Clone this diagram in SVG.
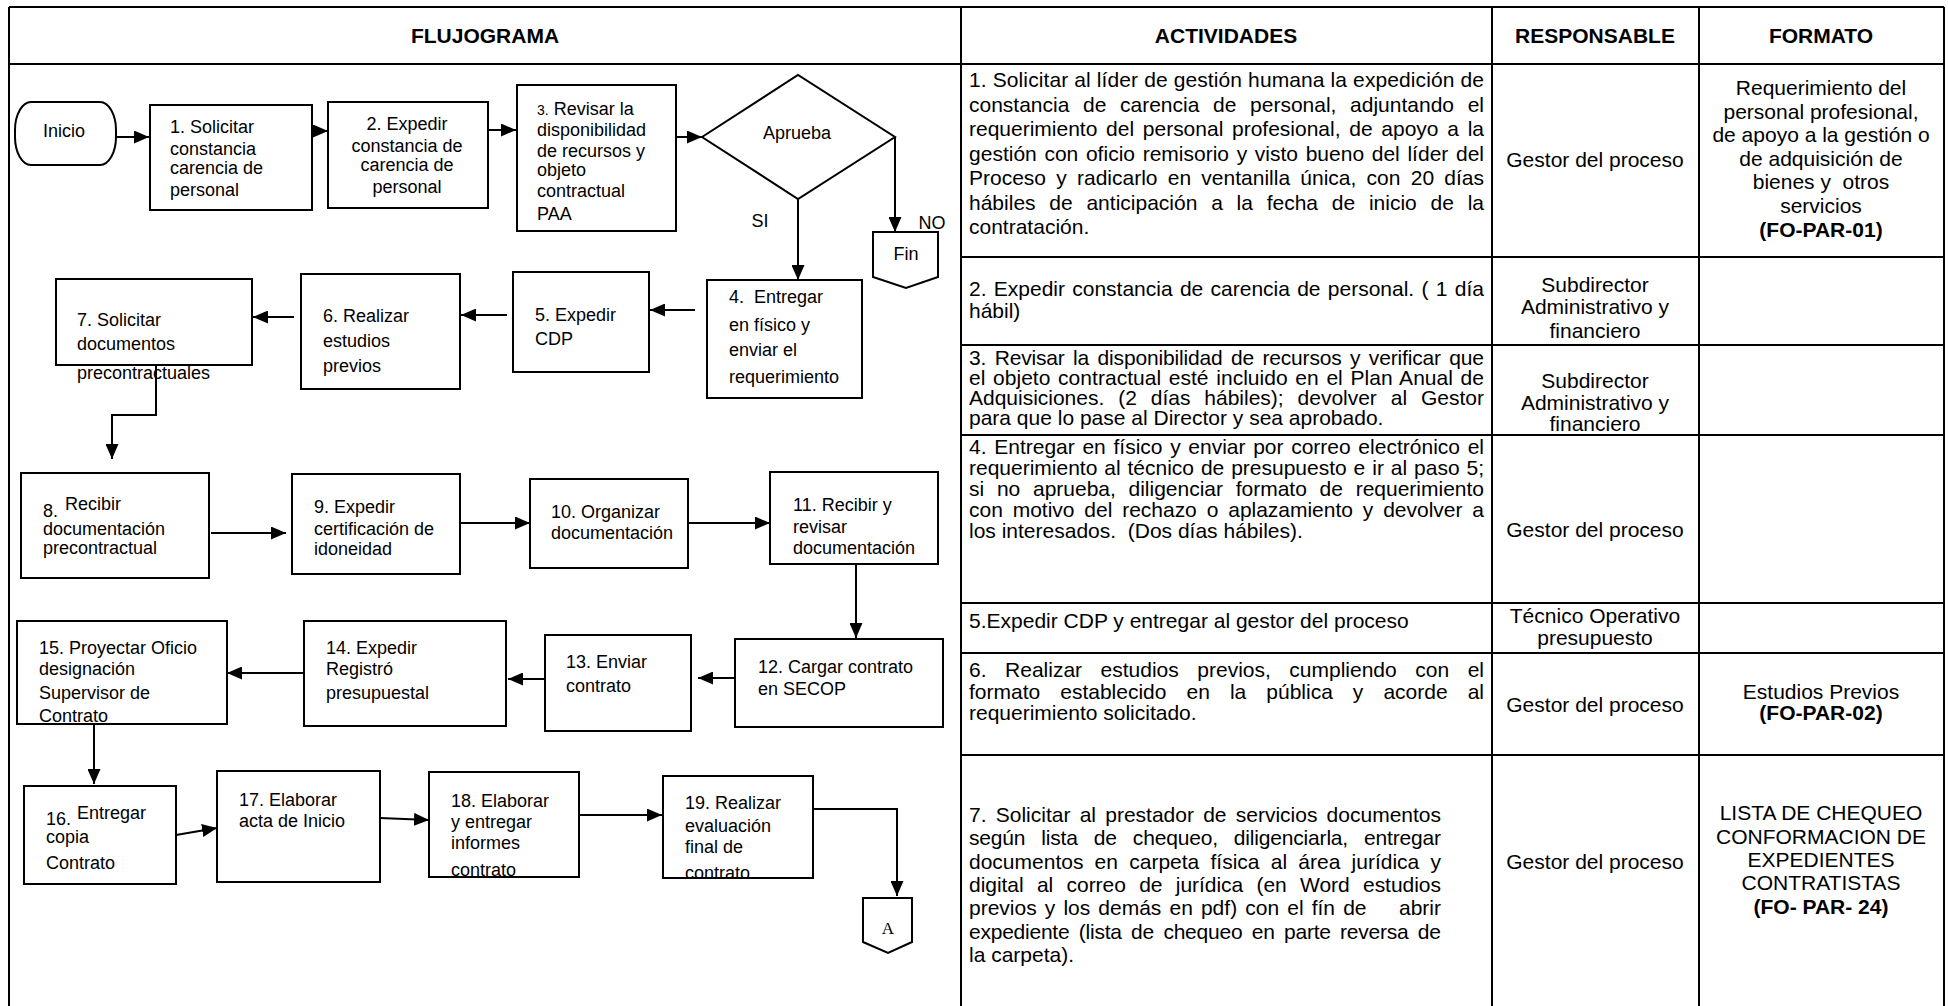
<svg xmlns="http://www.w3.org/2000/svg" width="1948" height="1006" viewBox="0 0 1948 1006">
<style>
.bx{fill:#fff;stroke:#000;stroke-width:2}
.ln{stroke:#000;stroke-width:2;fill:none}
.cn{stroke:#000;stroke-width:2;fill:none;marker-end:url(#ah)}
.f{font-family:"Liberation Sans",Arial,sans-serif;font-size:18px;fill:#000}
.g{font-family:"Liberation Sans",Arial,sans-serif;font-size:21px;fill:#000}
.hd{font-weight:bold;text-anchor:middle}
.m{text-anchor:middle}
.bd{font-weight:bold}
</style>
<defs>
<marker id="ah" viewBox="0 0 15 13" refX="15" refY="6.5" markerWidth="15" markerHeight="13" markerUnits="userSpaceOnUse" orient="auto"><path d="M0,0 L15,6.5 L0,13 z" fill="#000"/></marker>
</defs>
<rect width="1948" height="1006" fill="#fff"/>

<g id="table">
<path class="ln" d="M9,7 H1944 M9,64 H1944 M9,7 V1006 M1944,7 V1006 M961,7 V1006 M1492,7 V1006 M1699,7 V1006 M961,257 H1944 M961,345 H1944 M961,435 H1944 M961,603 H1944 M961,653 H1944 M961,755 H1944"/>
<text class="g hd" x="485" y="43">FLUJOGRAMA</text>
<text class="g hd" x="1226" y="43">ACTIVIDADES</text>
<text class="g hd" x="1595" y="43">RESPONSABLE</text>
<text class="g hd" x="1821" y="43">FORMATO</text>
</g>

<g id="row1">
<text class="g" x="969" y="87" textLength="515" lengthAdjust="spacing">1. Solicitar al líder de gestión humana la expedición de</text>
<text class="g" x="969" y="111.5" word-spacing="7.8" textLength="515" lengthAdjust="spacing">constancia de carencia de personal, adjuntando el</text>
<text class="g" x="969" y="136" word-spacing="2.9" textLength="515" lengthAdjust="spacing">requerimiento del personal profesional, de apoyo a la</text>
<text class="g" x="969" y="160.5" word-spacing="1.8" textLength="515" lengthAdjust="spacing">gestión con oficio remisorio y visto bueno del líder del</text>
<text class="g" x="969" y="185" word-spacing="4.4" textLength="515" lengthAdjust="spacing">Proceso y radicarlo en ventanilla única, con 20 días</text>
<text class="g" x="969" y="209.5" word-spacing="7.9" textLength="515" lengthAdjust="spacing">hábiles de anticipación a la fecha de inicio de la</text>
<text class="g" x="969" y="234">contratación.</text>
<text class="g m" x="1595" y="167">Gestor del proceso</text>
<text class="g m" x="1821" y="95">Requerimiento del</text>
<text class="g m" x="1821" y="119">personal profesional,</text>
<text class="g m" x="1821" y="142">de apoyo a la gestión o</text>
<text class="g m" x="1821" y="166">de adquisición de</text>
<text class="g m" x="1821" y="189" style="white-space:pre">bienes y  otros</text>
<text class="g m" x="1821" y="213">servicios</text>
<text class="g m bd" x="1821" y="237">(FO-PAR-01)</text>
</g>

<g id="row2">
<text class="g" x="969" y="296" word-spacing="1.5" textLength="515" lengthAdjust="spacing">2. Expedir constancia de carencia de personal. ( 1 día</text>
<text class="g" x="969" y="318">hábil)</text>
<text class="g m" x="1595" y="292">Subdirector</text>
<text class="g m" x="1595" y="314">Administrativo y</text>
<text class="g m" x="1595" y="338">financiero</text>
</g>

<g id="row3">
<text class="g" x="969" y="365" word-spacing="2.8" textLength="515" lengthAdjust="spacing">3. Revisar la disponibilidad de recursos y verificar que</text>
<text class="g" x="969" y="385" word-spacing="1.8" textLength="515" lengthAdjust="spacing">el objeto contractual esté incluido en el Plan Anual de</text>
<text class="g" x="969" y="405" word-spacing="8.1" textLength="515" lengthAdjust="spacing">Adquisiciones. (2 días hábiles); devolver al Gestor</text>
<text class="g" x="969" y="425">para que lo pase al Director y sea aprobado.</text>
<text class="g m" x="1595" y="388">Subdirector</text>
<text class="g m" x="1595" y="410">Administrativo y</text>
<text class="g m" x="1595" y="431">financiero</text>
</g>

<g id="row4">
<text class="g" x="969" y="454" word-spacing="1.8" textLength="515" lengthAdjust="spacing">4. Entregar en físico y enviar por correo electrónico el</text>
<text class="g" x="969" y="475" word-spacing="1.1" textLength="515" lengthAdjust="spacing">requerimiento al técnico de presupuesto e ir al paso 5;</text>
<text class="g" x="969" y="496" word-spacing="6.9" textLength="515" lengthAdjust="spacing">si no aprueba, diligenciar formato de requerimiento</text>
<text class="g" x="969" y="517" word-spacing="4.1" textLength="515" lengthAdjust="spacing">con motivo del rechazo o aplazamiento y devolver a</text>
<text class="g" x="969" y="538" style="white-space:pre">los interesados.  (Dos días hábiles).</text>
<text class="g m" x="1595" y="537">Gestor del proceso</text>
</g>

<g id="row5">
<text class="g" x="969" y="628">5.Expedir CDP y entregar al gestor del proceso</text>
<text class="g m" x="1595" y="623">Técnico Operativo</text>
<text class="g m" x="1595" y="645">presupuesto</text>
</g>

<g id="row6">
<text class="g" x="969" y="677" word-spacing="12.7" textLength="515" lengthAdjust="spacing">6. Realizar estudios previos, cumpliendo con el</text>
<text class="g" x="969" y="699" word-spacing="14.2" textLength="515" lengthAdjust="spacing">formato establecido en la pública y acorde al</text>
<text class="g" x="969" y="720">requerimiento solicitado.</text>
<text class="g m" x="1595" y="712">Gestor del proceso</text>
<text class="g m" x="1821" y="699">Estudios Previos</text>
<text class="g m bd" x="1821" y="720">(FO-PAR-02)</text>
</g>

<g id="row7">
<text class="g" x="969" y="822" word-spacing="3.4" textLength="472" lengthAdjust="spacing">7. Solicitar al prestador de servicios documentos</text>
<text class="g" x="969" y="845" word-spacing="10.4" textLength="472" lengthAdjust="spacing">según lista de chequeo, diligenciarla, entregar</text>
<text class="g" x="969" y="869" word-spacing="5.4" textLength="472" lengthAdjust="spacing">documentos en carpeta física al área jurídica y</text>
<text class="g" x="969" y="892" word-spacing="7.5" textLength="472" lengthAdjust="spacing">digital al correo de jurídica (en Word estudios</text>
<text class="g" x="969" y="915" word-spacing="2.3" textLength="472" lengthAdjust="spacing" style="white-space:pre">previos y los demás en pdf) con el fín de    abrir</text>
<text class="g" x="969" y="939" word-spacing="3.8" textLength="472" lengthAdjust="spacing">expediente (lista de chequeo en parte reversa de</text>
<text class="g" x="969" y="962">la carpeta).</text>
<text class="g m" x="1595" y="869">Gestor del proceso</text>
<text class="g m" x="1821" y="820">LISTA DE CHEQUEO</text>
<text class="g m" x="1821" y="844">CONFORMACION DE</text>
<text class="g m" x="1821" y="867">EXPEDIENTES</text>
<text class="g m" x="1821" y="890">CONTRATISTAS</text>
<text class="g m bd" x="1821" y="914">(FO- PAR- 24)</text>
</g>

<g id="connectors">
<path class="cn" d="M116,137 H149"/>
<path class="cn" d="M312,131 H328"/>
<path class="cn" d="M488,130 H516"/>
<path class="cn" d="M677,137 H702"/>
<path class="cn" d="M798,199 V280"/>
<path class="cn" d="M895,137 V232"/>
<path class="cn" d="M695,310 H650"/>
<path class="cn" d="M507,315 H461"/>
<path class="cn" d="M294,317 H253"/>
<path class="cn" d="M156,366 V415 H112 V459"/>
<path class="cn" d="M211,533 H286"/>
<path class="cn" d="M460,523 H530"/>
<path class="cn" d="M687,523 H770"/>
<path class="cn" d="M856,564 V638"/>
<path class="cn" d="M735,678 H698"/>
<path class="cn" d="M545,679 H508"/>
<path class="cn" d="M304,673 H227"/>
<path class="cn" d="M94,724 V784"/>
<path class="cn" d="M176,835 L217,828"/>
<path class="cn" d="M380,818 L429,820"/>
<path class="cn" d="M579,815 H662"/>
<path class="cn" d="M813,809 H897 V896"/>
<text class="f m" x="760" y="227">SI</text>
<text class="f m" x="932" y="229">NO</text>
</g>

<g id="inicio"><rect class="bx" x="15" y="102" width="101" height="63" rx="16" ry="28"/><text class="f m" x="64" y="137">Inicio</text></g>
<g id="n1"><rect class="bx" x="150" y="105" width="162" height="105"/><text class="f" x="170" y="133">1. Solicitar</text><text class="f" x="170" y="155">constancia</text><text class="f" x="170" y="174">carencia de</text><text class="f" x="170" y="196">personal</text></g>
<g id="n2"><rect class="bx" x="328" y="102" width="160" height="106"/><text class="f m" x="407" y="130">2. Expedir</text><text class="f m" x="407" y="152">constancia de</text><text class="f m" x="407" y="171">carencia de</text><text class="f m" x="407" y="193">personal</text></g>
<g id="n3"><rect class="bx" x="517" y="85" width="159" height="146"/><text class="f" x="537" y="115"><tspan font-size="14">3.</tspan> Revisar la</text><text class="f" x="537" y="136">disponibilidad</text><text class="f" x="537" y="157">de recursos y</text><text class="f" x="537" y="176">objeto</text><text class="f" x="537" y="197">contractual</text><text class="f" x="537" y="220">PAA</text></g>
<g id="decision"><path class="bx" d="M702,137 L798,75 L895,137 L798,199 Z"/><text class="f m" x="797" y="139">Aprueba</text></g>
<g id="fin"><path class="bx" d="M873,232 H938 V277 L906,288 L873,277 Z"/><text class="f m" x="906" y="260">Fin</text></g>
<g id="n4"><rect class="bx" x="707" y="280" width="155" height="118"/><text class="f" x="729" y="303" style="white-space:pre">4.  Entregar</text><text class="f" x="729" y="331">en físico y</text><text class="f" x="729" y="356">enviar el</text><text class="f" x="729" y="383">requerimiento</text></g>
<g id="n5"><rect class="bx" x="513" y="272" width="136" height="100"/><text class="f" x="535" y="321">5. Expedir</text><text class="f" x="535" y="345">CDP</text></g>
<g id="n6"><rect class="bx" x="301" y="274" width="159" height="115"/><text class="f" x="323" y="322">6. Realizar</text><text class="f" x="323" y="347">estudios</text><text class="f" x="323" y="372">previos</text></g>
<g id="n7"><rect class="bx" x="56" y="279" width="196" height="86"/><text class="f" x="77" y="326">7. Solicitar</text><text class="f" x="77" y="350">documentos</text><text class="f" x="77" y="379">precontractuales</text></g>
<g id="n8"><rect class="bx" x="21" y="473" width="188" height="105"/><text class="f" x="43" y="517">8.</text><text class="f" x="65" y="510">Recibir</text><text class="f" x="43" y="535">documentación</text><text class="f" x="43" y="554">precontractual</text></g>
<g id="n9"><rect class="bx" x="292" y="474" width="168" height="100"/><text class="f" x="314" y="513">9. Expedir</text><text class="f" x="314" y="535">certificación de</text><text class="f" x="314" y="555">idoneidad</text></g>
<g id="n10"><rect class="bx" x="530" y="479" width="158" height="89"/><text class="f" x="551" y="518">10. Organizar</text><text class="f" x="551" y="539">documentación</text></g>
<g id="n11"><rect class="bx" x="770" y="472" width="168" height="92"/><text class="f" x="793" y="511">11. Recibir y</text><text class="f" x="793" y="533">revisar</text><text class="f" x="793" y="554">documentación</text></g>
<g id="n12"><rect class="bx" x="735" y="639" width="208" height="88"/><text class="f" x="758" y="673">12. Cargar contrato</text><text class="f" x="758" y="695">en SECOP</text></g>
<g id="n13"><rect class="bx" x="545" y="635" width="146" height="96"/><text class="f" x="566" y="668">13. Enviar</text><text class="f" x="566" y="692">contrato</text></g>
<g id="n14"><rect class="bx" x="304" y="621" width="202" height="105"/><text class="f" x="326" y="654">14. Expedir</text><text class="f" x="326" y="675">Registró</text><text class="f" x="326" y="699">presupuestal</text></g>
<g id="n15"><rect class="bx" x="17" y="621" width="210" height="103"/><text class="f" x="39" y="654">15. Proyectar Oficio</text><text class="f" x="39" y="675">designación</text><text class="f" x="39" y="699">Supervisor de</text><text class="f" x="39" y="722">Contrato</text></g>
<g id="n16"><rect class="bx" x="24" y="786" width="152" height="98"/><text class="f" x="46" y="825">16.</text><text class="f" x="77" y="819">Entregar</text><text class="f" x="46" y="843">copia</text><text class="f" x="46" y="869">Contrato</text></g>
<g id="n17"><rect class="bx" x="217" y="771" width="163" height="111"/><text class="f" x="239" y="806">17. Elaborar</text><text class="f" x="239" y="827">acta de Inicio</text></g>
<g id="n18"><rect class="bx" x="429" y="772" width="150" height="105"/><text class="f" x="451" y="807">18. Elaborar</text><text class="f" x="451" y="828">y entregar</text><text class="f" x="451" y="849">informes</text><text class="f" x="451" y="876">contrato</text></g>
<g id="n19"><rect class="bx" x="663" y="776" width="150" height="102"/><text class="f" x="685" y="809">19. Realizar</text><text class="f" x="685" y="832">evaluación</text><text class="f" x="685" y="853">final de</text><text class="f" x="685" y="879">contrato</text></g>
<g id="connA"><path class="bx" d="M863,898 H912 V942 L888,953 L863,942 Z"/><text x="888" y="934" text-anchor="middle" font-family="'Liberation Serif','Times New Roman',serif" font-size="17">A</text></g>
</svg>
